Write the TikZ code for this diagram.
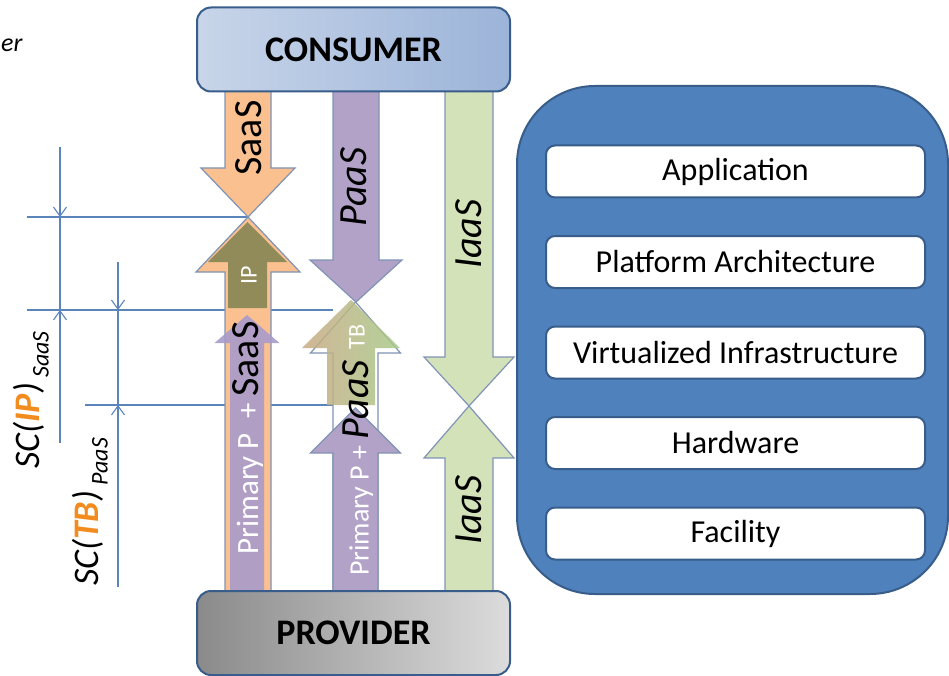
\documentclass[tikz,border=0pt]{standalone}
\usepackage{fontspec}
\setmainfont{Carlito}
\usepackage{tikz}
\usetikzlibrary{positioning}
\usetikzlibrary{arrows.meta}
\usepackage{color}

\definecolor{saasorange}{HTML}{FAC090}
\definecolor{paaspurple}{HTML}{B3A2C7}
\definecolor{iaasgreen}{HTML}{D4E2B9}
\definecolor{edgeblue}{HTML}{7F93B5}
\definecolor{layerblue}{HTML}{4F81BD}
\definecolor{layeredge}{HTML}{385D8A}
\definecolor{guideblue}{HTML}{5B84BA}
\definecolor{markorange}{HTML}{F28C1E}
\definecolor{consumerleft}{HTML}{C8D5E9}
\definecolor{consumermid}{HTML}{DCE4F1}
\definecolor{consumerright}{HTML}{9CB4D9}
\definecolor{providerleft}{HTML}{8A8A8A}
\definecolor{providerright}{HTML}{DCDCDC}
\definecolor{ipolive}{HTML}{8B8956}
\definecolor{primpurple}{HTML}{A89BCB}
\definecolor{tbleft}{HTML}{C9A983}
\definecolor{tbright}{HTML}{A7CA8A}

\newcommand{\setfs}[1]{\fontsize{#1}{#1}\selectfont}
% [style] x, tail, tip, head base, shaft half width, head half width
\newcommand{\blockarrow}[7][]{%
  \draw[#1] ({#2-#6},#3) -- ({#2-#6},#5) -- ({#2-#7},#5) -- (#2,#4)
    -- ({#2+#7},#5) -- ({#2+#6},#5) -- ({#2+#6},#3) -- cycle;}

\begin{document}
\begin{tikzpicture}
[x=1pt, y=-1pt, >={Straight Barb[length=9pt,width=13pt]},
 guide/.style={draw=guideblue, line width=1.1pt},
 arrowline/.style={draw=edgeblue, line width=1.2pt},
 endbox/.style={rounded corners=14pt, draw=layeredge, line width=2pt,
   minimum width=313pt, minimum height=84pt, font={\setfs{36}\bfseries}},
 layerbox/.style={rounded corners=9pt, fill=white, draw=layeredge, line width=2pt,
   minimum width=379pt, minimum height=52pt, font={\setfs{32}}},
 lbl/.style={inner sep=0pt, rotate=90},
 node distance=36.5pt]

\useasboundingbox (0,0) rectangle (949,676);

% Guide lines:
\draw[guide] (27,217) -- (248,217);
\draw[guide] (27,310) -- (333,310);
\draw[guide] (85,405) -- (333,405);

% Dimension arrows:
\coordinate (ipFrom)  at (60,147);
\coordinate (ipTo)    at (60,443);
\coordinate (ipUpper) at (60,217);
\coordinate (ipLower) at (60,310);
\coordinate (tbFrom)  at (118,262);
\coordinate (tbTo)    at (118,587);
\coordinate (tbUpper) at (118,310);
\coordinate (tbLower) at (118,405);
\draw[guide] (ipFrom) -- (ipTo);
\draw[guide] (tbFrom) -- (tbTo);
\draw[guide,->] (ipFrom) -- (ipUpper);
\draw[guide,->] (ipTo) -- (ipLower);
\draw[guide,->] (tbFrom) -- (tbUpper);
\draw[guide,->] (tbTo) -- (tbLower);

% SaaS column:
\blockarrow[arrowline, fill=saasorange]{248}{85}{217}{168}{23}{47}
\blockarrow[arrowline, fill=saasorange]{248}{600}{217}{272}{23}{52}
\blockarrow[draw=none, fill=ipolive, fill opacity=.95]{247.5}{308}{222}{262}{19.5}{39.5}
\blockarrow[draw=none, fill=primpurple, fill opacity=.9]{247}{593}{315}{343}{17}{32.5}

% PaaS column:
\blockarrow[arrowline, fill=paaspurple]{356}{85}{302}{260}{23}{46}
\blockarrow[arrowline, fill=white]{355.5}{600}{302}{353}{22.5}{45}
\blockarrow[arrowline, fill=paaspurple]{355.5}{600}{408}{453}{22.5}{45}
\blockarrow[draw=none, left color=tbleft, right color=tbright, fill opacity=.85]{351}{405}{300}{348}{24}{49}

% IaaS column:
\blockarrow[arrowline, fill=iaasgreen]{469}{85}{406}{357}{24}{45}
\blockarrow[arrowline, fill=iaasgreen]{469}{600}{406}{458}{24}{45}

% End points:
\node[endbox, left color=consumerleft, middle color=consumermid, right color=consumerright]
  (consumer) at (353.5,49.5) {CONSUMER};
\node[endbox, left color=providerleft, right color=providerright]
  (provider) at (353.5,633) {PROVIDER};

% Arrow labels:
\node[lbl] (saasLbl) at (249,138) {\setfs{40}SaaS};
\node[lbl] (paasLbl) at (354,187) {\setfs{40}\itshape PaaS};
\node[lbl] (iaasTop) at (469,234) {\setfs{40}\itshape IaaS};
\node[lbl] (iaasBot) at (469,510) {\setfs{40}\itshape IaaS};
\node[lbl, text=white] (ipLbl) at (249,275) {\setfs{24}IP};
\node[lbl, text=white] (tbLbl) at (357,337) {\setfs{24}TB};
\node[lbl] (saasPrim) at (248,438)
  {{\setfs{31}\color{white}Primary P \ + }{\setfs{40}SaaS}};
\node[lbl] (paasPrim) at (358,468)
  {{\setfs{28}\color{white}Primary P + }{\setfs{40}\itshape PaaS}};

% Dimension labels:
\node[lbl] (scIP) at (31,400)
  {\setfs{36}\itshape SC(\textcolor{markorange}{\bfseries IP})\raisebox{-9pt}{\setfs{24} SaaS}};
\node[lbl] (scTB) at (90,512)
  {\setfs{36}\itshape SC(\textcolor{markorange}{\bfseries TB})\raisebox{-9pt}{\setfs{24} PaaS}};
\node[anchor=base west, inner sep=0pt] (cutWord) at (1,52) {\setfs{26}\itshape er};

% Layer stack:
\node[draw=layeredge, line width=2pt, fill=layerblue, rounded corners=78pt,
  minimum width=431pt, minimum height=508pt] (stack) at (732.5,340) {};
\node[layerbox] (app) at (735.5,171.5) {Application};
\node[layerbox, below=of app] (platform) {Platform Architecture};
\node[layerbox, below=of platform] (virt) {Virtualized Infrastructure};
\node[layerbox, below=of virt] (hardware) {Hardware};
\node[layerbox, below=of hardware] (facility) {Facility};

\end{tikzpicture}
\end{document}
